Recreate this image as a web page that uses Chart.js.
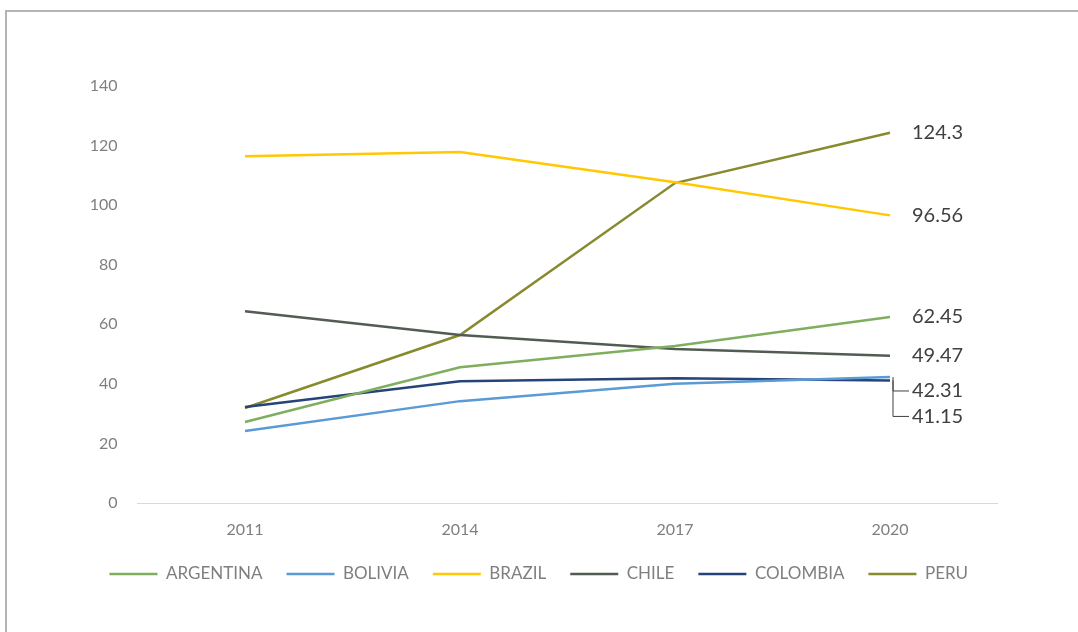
<!DOCTYPE html>
<html>
<head>
<meta charset="utf-8">
<script src="https://cdn.jsdelivr.net/npm/chart.js@4"></script>
<style>
  html, body { margin: 0; padding: 0; background: #fff; }
  #wrap { position: relative; width: 1078px; height: 632px; }
  #frame {
    position: absolute; left: 5px; top: 10px; right: 0; bottom: 0;
    border-left: 2px solid #b4b4b4; border-top: 2px solid #b4b4b4;
    pointer-events: none;
  }
</style>
</head>
<body>
<div id="wrap">
  <canvas id="chart" width="1078" height="632"></canvas>
  <div id="frame"></div>
</div>
<script>
// Chart data
const years = ["2011", "2014", "2017", "2020"];
const argentina = [27.2, 45.6, 52.7, 62.45];
const bolivia = [24.2, 34.2, 40.0, 42.31];
const brazil = [116.4, 117.8, 107.7, 96.56];
const chile = [64.4, 56.4, 51.7, 49.47];
const colombia = [32.2, 40.9, 41.9, 41.15];
const peru = [31.9, 56.4, 107.4, 124.3];

const seriesNames = ["ARGENTINA", "BOLIVIA", "BRAZIL", "CHILE", "COLOMBIA", "PERU"];
const seriesValues = [argentina, bolivia, brazil, chile, colombia, peru];
const seriesColors = ["#7fae5e", "#5b9bd5", "#ffc800", "#535c52", "#264478", "#878a2e"];

// extra vertical shift for the last-point labels (pixels), with leader lines
const labelShift = [0, 14, 0, 0, 36, 0];

const endLabels = {
  id: "endLabels",
  afterDatasetsDraw(chart) {
    const ctx = chart.ctx;
    ctx.save();
    ctx.font = "20px Lato";
    ctx.fillStyle = "#404040";
    ctx.textBaseline = "middle";
    ctx.textAlign = "left";
    chart.data.datasets.forEach((ds, i) => {
      const meta = chart.getDatasetMeta(i);
      const last = meta.data[meta.data.length - 1];
      const v = ds.data[ds.data.length - 1];
      const x = last.x + 22;
      const y = last.y + labelShift[i];
      if (labelShift[i] !== 0) {
        ctx.strokeStyle = "#404040";
        ctx.lineWidth = 1;
        ctx.beginPath();
        ctx.moveTo(last.x + 3, last.y);
        ctx.lineTo(last.x + 3, y);
        ctx.lineTo(x - 3, y);
        ctx.stroke();
      }
      ctx.fillText(String(v), x, y);
    });
    ctx.restore();
  },
};

new Chart(document.getElementById("chart"), {
  type: "line",
  data: {
    labels: years,
    datasets: seriesNames.map((name, i) => ({
      label: name,
      data: seriesValues[i],
      borderColor: seriesColors[i],
      backgroundColor: seriesColors[i],
      borderWidth: 2.5,
      pointRadius: 0,
      tension: 0,
    })),
  },
  options: {
    responsive: false,
    animation: false,
    layout: { padding: { top: 86, left: 80, right: 80.5, bottom: 39.5 } },
    plugins: {
      legend: {
        position: "bottom",
        labels: {
          usePointStyle: true,
          pointStyle: "line",
          pointStyleWidth: 48,
          boxWidth: 48,
          padding: 24,
          color: "#7f7f7f",
          font: { family: "Lato", size: 17 },
        },
      },
      tooltip: { enabled: false },
    },
    scales: {
      x: {
        offset: true,
        grid: { display: false, drawTicks: false },
        border: { display: true, color: "#d9d9d9", width: 1 },
        ticks: { color: "#7f7f7f", padding: 17, font: { family: "Lato", size: 16 } },
        afterFit(scale) { scale.height = 38.5; },
      },
      y: {
        min: 0,
        max: 140,
        grid: { display: false, drawTicks: false },
        border: { display: false },
        ticks: { stepSize: 20, color: "#7f7f7f", padding: 20, font: { family: "Lato", size: 16 } },
        afterFit(scale) { scale.width = 57.5; },
      },
    },
  },
  plugins: [endLabels],
});
</script>
</body>
</html>
